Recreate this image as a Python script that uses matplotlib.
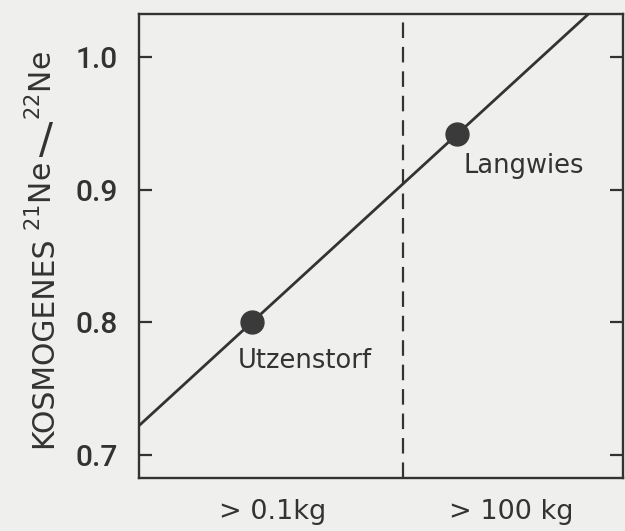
import numpy as np
import matplotlib
matplotlib.use("Agg")
import matplotlib.pyplot as plt

# ---- data ----
samples = ["Utzenstorf", "Langwies"]
shielding = [0.233, 0.658]          # relative position on the (unlabelled) size axis
ne_ratio = [0.800, 0.942]           # cosmogenic 21Ne/22Ne
size_labels = ["> 0.1kg", "> 100 kg"]
size_label_pos = [0.277, 0.769]
boundary = 0.546
yticks = [0.7, 0.8, 0.9, 1.0]
ylim = (0.6827, 1.0324)
xlim = (0.0, 1.0)

ink = "#333333"
paper = "#efefed"
plt.rcParams["mathtext.default"] = "regular"

W, H = 625, 531
fig = plt.figure(figsize=(W / 100, H / 100), dpi=100, facecolor=paper)
ax = fig.add_axes([139 / W, 1 - 478 / H, (623 - 139) / W, (478 - 14) / H])
ax.set_facecolor(paper)
ax.set_xlim(*xlim)
ax.set_ylim(*ylim)

# regression line through the two meteorites
coef = np.polyfit(shielding, ne_ratio, 1)
xx = np.array(xlim)
ax.plot(xx, np.polyval(coef, xx), color=ink, lw=2.0, solid_capstyle="butt", zorder=2)
ax.plot(shielding, ne_ratio, "o", ms=16.5, color="#3a3a3a", zorder=3)

ax.axvline(boundary, color=ink, lw=1.6, ls=(0, (7, 4)), zorder=1)

offsets = [(38, -28), (48, -23)]
for name, x, y, off in zip(samples, shielding, ne_ratio, offsets):
    ax.annotate(name, (x, y), xytext=off, textcoords="offset points",
                ha="center", va="center", fontsize=18.5, color=ink,
                family="DejaVu Sans")

for s in ax.spines.values():
    s.set_linewidth(1.7)
    s.set_color(ink)

ax.set_yticks(yticks)
ax.set_yticklabels([f"{v:.1f}" for v in yticks], family="Roboto", fontsize=21.5,
                   color=ink, weight="medium")
ax.tick_params(axis="y", direction="in", length=9.5, width=1.6, color=ink,
               pad=15, right=True, labelright=False)
ax.set_xticks(size_label_pos)
ax.set_xticklabels(size_labels, family="DejaVu Sans", fontsize=19.5, color=ink)
ax.tick_params(axis="x", length=0, pad=15)

# y-axis title assembled from pieces
def ftxt(px, py, s, **kw):
    fig.text(px / W, 1 - py / H, s, color=ink, **kw)

base_x = 52
ftxt(base_x, 342, "KOSMOGENES", rotation=90, rotation_mode="anchor",
     ha="center", va="baseline", fontsize=21.5, family="DejaVu Sans")
ftxt(base_x, 197, r"$^{21}$Ne", rotation=90, rotation_mode="anchor",
     ha="center", va="baseline", fontsize=21.5, family="DejaVu Sans")
ftxt(46, 141, "/", rotation=0, ha="center", va="center", fontsize=30,
     family="DejaVu Sans")
ftxt(base_x, 86, r"$^{22}$Ne", rotation=90, rotation_mode="anchor",
     ha="center", va="baseline", fontsize=21.5, family="DejaVu Sans")

fig.savefig("out.png", dpi=100, facecolor=paper)
